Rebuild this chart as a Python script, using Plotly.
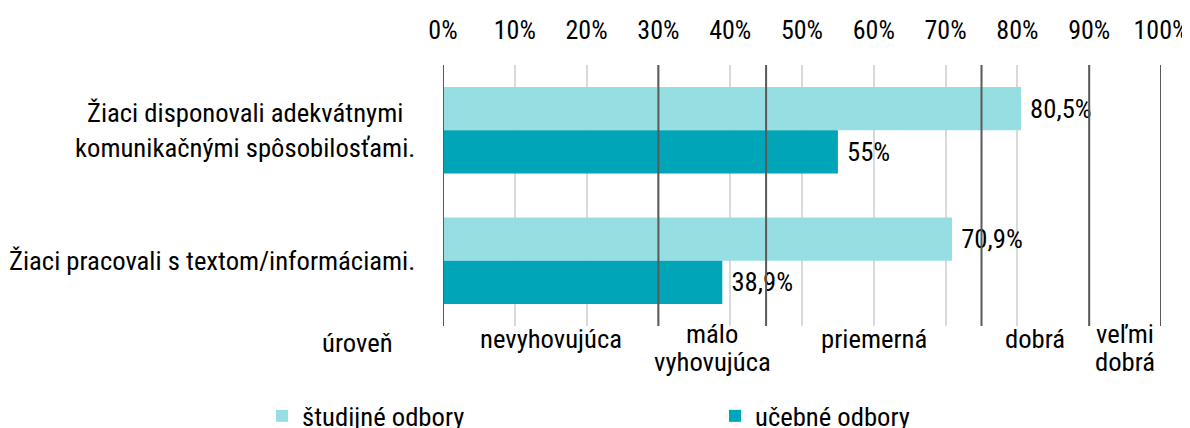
import plotly.graph_objects as go

categories = ["Žiaci disponovali adekvátnymi<br>komunikačnými spôsobilosťami.",
              "Žiaci pracovali s textom/informáciami."]
series_names = ["študijné odbory", "učebné odbory"]
studijne = [80.5, 70.9]
ucebne = [55.0, 38.9]
colors = ["#97DEE3", "#00A5B8"]

level_bounds = [0, 30, 45, 75, 90, 100]
level_names = ["nevyhovujúca", "málo<br>vyhovujúca", "priemerná", "dobrá", "veľmi<br>dobrá"]
level_title = "úroveň"
x_ticks = list(range(0, 101, 10))
x_tick_labels = [f"{t}%" for t in x_ticks]

FONT = "Roboto Condensed, Roboto, sans-serif"
FS = 26.67

def fmt(v):
    return " " + f"{v:g}".replace(".", ",") + "%"

fig = go.Figure()
for name, vals, col in zip(series_names, [studijne, ucebne], colors):
    fig.add_trace(go.Bar(
        y=categories, x=vals, name=name, orientation="h",
        marker=dict(color=col, line=dict(width=0)),
        text=[fmt(v) for v in vals], textposition="outside",
        textfont=dict(size=FS, color="#000000", family=FONT),
        cliponaxis=False,
    ))

for b in level_bounds:
    fig.add_shape(type="line", xref="x", yref="paper", x0=b, x1=b, y0=0, y1=1,
                  line=dict(color="#595959", width=2), layer="above")

# category labels (centre-aligned multi-line, right of the text at the axis)
for cat in categories:
    fig.add_annotation(x=0, xref="paper", y=cat, yref="y", text=cat, showarrow=False,
                       xanchor="right", yanchor="middle", align="center", xshift=-26,
                       font=dict(size=FS, color="#000000", family=FONT))

for i, name in enumerate(level_names):
    mid = (level_bounds[i] + level_bounds[i + 1]) / 2
    lines = name.split("<br>")
    base = -13 if len(lines) == 1 else -8
    for j, line in enumerate(lines):
        fig.add_annotation(x=mid, xref="x", y=0, yref="paper", text=line, showarrow=False,
                           xanchor="center", yanchor="middle", yshift=base - 28 * j,
                           font=dict(size=FS, color="#000000", family=FONT))
fig.add_annotation(x=0, xref="paper", y=0, yref="paper", text=level_title, showarrow=False,
                   xanchor="center", yanchor="middle", xshift=-86, yshift=-17,
                   font=dict(size=FS, color="#000000", family=FONT))

W, H = 1190, 420
L, R, T, B = 435, 37, 57, 102
pw = W - L - R
ph = H - T - B

fig.update_layout(
    width=W, height=H,
    margin=dict(l=L, r=R, t=T, b=B, autoexpand=False),
    paper_bgcolor="white", plot_bgcolor="white",
    barmode="group", bargap=0.336, bargroupgap=0.0,
    font=dict(family=FONT, size=FS, color="#000000"),
    xaxis=dict(side="top", range=[0, 100], tickvals=x_ticks, ticktext=x_tick_labels,
               showgrid=True, gridcolor="#D9D9D9", gridwidth=2, zeroline=False,
               showline=False, ticks="", ticklabelstandoff=20, automargin=False,
               tickfont=dict(size=26, family=FONT, color="#000000")),
    yaxis=dict(range=[1.5, -0.5], showgrid=False, zeroline=False, showline=False,
               ticks="", showticklabels=False, automargin=False),
    legend=dict(orientation="h", xref="paper", yref="paper",
                x=-(L - 254) / pw, y=-(B + 12) / ph,
                xanchor="left", yanchor="bottom", entrywidth=408, entrywidthmode="pixels",
                font=dict(size=FS, family=FONT, color="#000000"), traceorder="normal"),
    showlegend=True,
)

fig.write_html("out.html")
